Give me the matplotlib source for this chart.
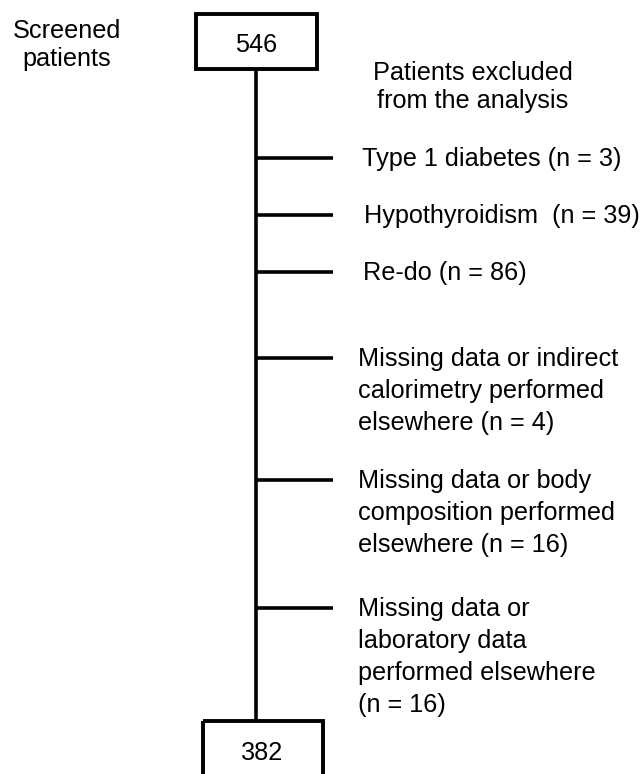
import matplotlib
matplotlib.use('Agg')
import matplotlib.pyplot as plt
import matplotlib.patches as mpatches

# 資料：篩選 / 排除 / 最終人數
n_screened = 546
n_final = 382
excl_labels = [
    ['Type 1 diabetes (n = {})'],
    ['Hypothyroidism  (n = {})'],
    ['Re-do (n = {})'],
    ['Missing data or indirect', 'calorimetry performed', 'elsewhere (n = {})'],
    ['Missing data or body', 'composition performed', 'elsewhere (n = {})'],
    ['Missing data or', 'laboratory data', 'performed elsewhere', '(n = {})'],
]
excl_counts = [3, 39, 86, 4, 16, 16]

# 版面（像素座標）
branch_y = [158, 215, 272, 358, 480, 608]
text_dx = [362, 364, 363, 358, 358, 358]
line_gap = 32

plt.rcParams['font.family'] = ['Liberation Sans', 'DejaVu Sans']
fs = 18.2
lw = 2.6

fig = plt.figure(figsize=(6.41, 7.74), dpi=100)
ax = fig.add_axes([0, 0, 1, 1])
ax.set_xlim(0, 641)
ax.set_ylim(774, 0)
ax.axis('off')

x_main = 256
# 主幹
ax.plot([x_main, x_main], [69, 721], color='black', lw=lw, solid_capstyle='butt')

# 上方框
ax.add_patch(mpatches.Rectangle((196, 14), 121, 55, fill=False,
                                edgecolor='black', lw=2.8))
ax.text(x_main, 52, str(n_screened), ha='center', va='baseline', fontsize=fs)
# 下方框
ax.add_patch(mpatches.Rectangle((203, 721), 120, 70, fill=False,
                                edgecolor='black', lw=2.8, clip_on=True))
ax.text(x_main + 6, 760, str(n_final), ha='center', va='baseline', fontsize=fs)

ax.text(67, 38, 'Screened', ha='center', va='baseline', fontsize=fs)
ax.text(67, 66, 'patients', ha='center', va='baseline', fontsize=fs)
ax.text(473, 80, 'Patients excluded', ha='center', va='baseline', fontsize=fs)
ax.text(473, 108, 'from the analysis', ha='center', va='baseline', fontsize=fs)

for lines, n, y, tx in zip(excl_labels, excl_counts, branch_y, text_dx):
    ax.plot([x_main, 333], [y, y], color='black', lw=lw, solid_capstyle='butt')
    for i, s in enumerate(lines):
        ax.text(tx, y + 8 + i * line_gap, s.format(n), ha='left',
                va='baseline', fontsize=fs)

fig.savefig('out.png', dpi=100)
